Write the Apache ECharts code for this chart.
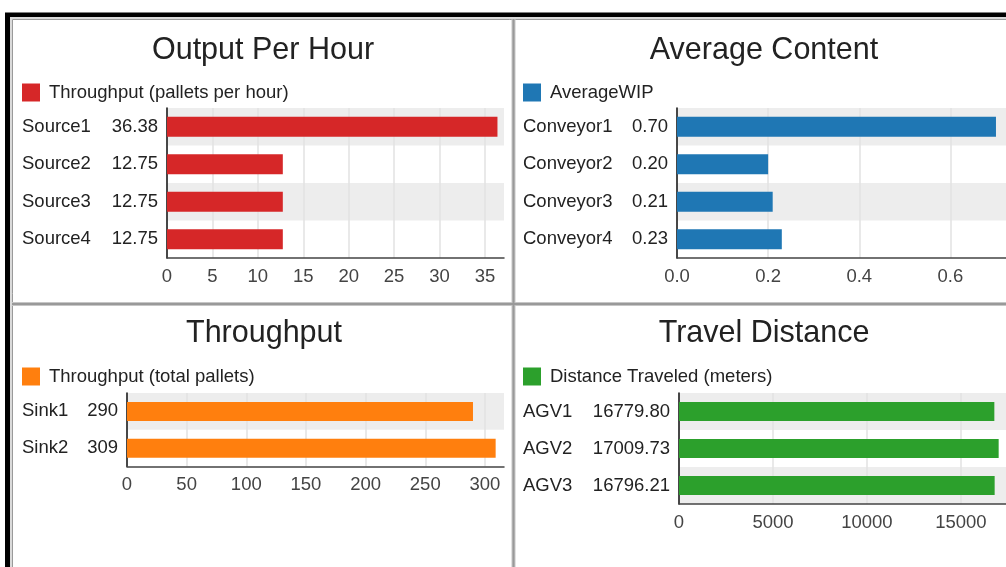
<!DOCTYPE html>
<html>
<head>
<meta charset="utf-8">
<script src="https://cdn.jsdelivr.net/npm/echarts@6/dist/echarts.min.js"></script>
<style>
  html, body { margin: 0; padding: 0; background: #fff; }
  #dash { width: 1006px; height: 567px; }
</style>
</head>
<body>
<div id="dash"></div>
<script>
// Simulation KPIs
const sourceNames = ['Source1', 'Source2', 'Source3', 'Source4'];
const sourceRates = [36.38, 12.75, 12.75, 12.75];

const conveyorNames = ['Conveyor1', 'Conveyor2', 'Conveyor3', 'Conveyor4'];
const conveyorWip = [0.70, 0.20, 0.21, 0.23];

const sinkNames = ['Sink1', 'Sink2'];
const sinkTotals = [290, 309];

const agvNames = ['AGV1', 'AGV2', 'AGV3'];
const agvDistances = [16779.80, 17009.73, 16796.21];

const panelTitles = ['Output Per Hour', 'Average Content', 'Throughput', 'Travel Distance'];
const seriesNames = ['Throughput (pallets per hour)', 'AverageWIP', 'Throughput (total pallets)', 'Distance Traveled (meters)'];

const FONT = '"Liberation Sans", Arial, Helvetica, sans-serif';
const TEXT = '#222';
const FS = 18.5;

// layout + scale settings for each of the four panels
const panels = [
  { names: sourceNames, values: sourceRates, fmt: v => v.toFixed(2), tick: v => String(v),
    interval: 5, max: 37.1, color: '#d62728',
    grid: { left: 167, top: 108, width: 337, height: 150 },
    titleX: 263, titleY: 35, legendX: 22, legendY: 83, nameW: 76, valW: 60, barWidth: 20 },
  { names: conveyorNames, values: conveyorWip, fmt: v => v.toFixed(2), tick: v => v.toFixed(1),
    interval: 0.2, max: 0.722, color: '#1f77b4',
    grid: { left: 677, top: 108, width: 329, height: 150 },
    titleX: 764, titleY: 35, legendX: 523, legendY: 83, nameW: 95, valW: 50, barWidth: 20 },
  { names: sinkNames, values: sinkTotals, fmt: v => String(v), tick: v => String(v),
    interval: 50, max: 316, color: '#ff7f0e',
    grid: { left: 127, top: 393, width: 377, height: 73.5 },
    titleX: 264, titleY: 318, legendX: 22, legendY: 367, nameW: 56, valW: 40, barWidth: 19 },
  { names: agvNames, values: agvDistances, fmt: v => v.toFixed(2), tick: v => String(v),
    interval: 5000, max: 17400, color: '#2ca02c',
    grid: { left: 679, top: 393, width: 327, height: 111 },
    titleX: 764, titleY: 318, legendX: 523, legendY: 367, nameW: 67, valW: 80, barWidth: 19 }
];

const grids = [], xAxes = [], yAxes = [], series = [], legends = [];
const graphics = [
  // outer black frame
  { type: 'rect', shape: { x: 7.5, y: 15, width: 1200, height: 800 },
    style: { fill: 'none', stroke: '#000', lineWidth: 5 }, silent: true },
  { type: 'rect', shape: { x: 11, y: 18, width: 1200, height: 800 },
    style: { fill: 'none', stroke: '#dadada', lineWidth: 2 }, silent: true },
  { type: 'rect', shape: { x: 12.5, y: 19.5, width: 1200, height: 800 },
    style: { fill: 'none', stroke: '#9a9a9a', lineWidth: 1 }, silent: true },
  // panel dividers
  { type: 'line', shape: { x1: 513.5, y1: 19, x2: 513.5, y2: 567 },
    style: { stroke: '#c6c6c6', lineWidth: 4 }, silent: true },
  { type: 'line', shape: { x1: 12, y1: 304, x2: 1006, y2: 304 },
    style: { stroke: '#c6c6c6', lineWidth: 4 }, silent: true },
  { type: 'line', shape: { x1: 513.5, y1: 19, x2: 513.5, y2: 567 },
    style: { stroke: '#999', lineWidth: 2 }, silent: true },
  { type: 'line', shape: { x1: 12, y1: 304, x2: 1006, y2: 304 },
    style: { stroke: '#999', lineWidth: 2 }, silent: true }
];

panels.forEach((p, i) => {
  grids.push(Object.assign({ containLabel: false }, p.grid));

  xAxes.push({
    gridIndex: i, type: 'value', min: 0, max: p.max, interval: p.interval,
    axisLine: { show: true, lineStyle: { color: '#444', width: 1.5 } },
    axisTick: { show: false },
    axisLabel: { color: '#444', fontSize: FS, fontFamily: FONT, margin: 9,
      showMaxLabel: false, formatter: p.tick },
    splitLine: { show: true, showMaxLine: false, lineStyle: { color: '#e2e2e2', width: 1.5 } }
  });

  yAxes.push({
    gridIndex: i, type: 'category', data: p.names, inverse: true,
    axisLine: { show: true, lineStyle: { color: '#111', width: 1.5 } },
    axisTick: { show: false },
    axisLabel: {
      margin: 9, fontSize: FS, fontFamily: FONT, color: TEXT,
      formatter: (name, idx) => '{n|' + name + '}{v|' + p.fmt(p.values[idx]) + '}',
      rich: {
        n: { width: p.nameW, align: 'left', fontSize: FS, fontFamily: FONT, color: TEXT },
        v: { width: p.valW, align: 'right', fontSize: FS, fontFamily: FONT, color: TEXT }
      }
    },
    splitLine: { show: false },
    splitArea: { show: true, areaStyle: { color: ['rgba(0,0,0,0.07)', 'rgba(0,0,0,0)'] } }
  });

  series.push({
    type: 'bar', name: seriesNames[i], xAxisIndex: i, yAxisIndex: i,
    data: p.values, barWidth: p.barWidth,
    itemStyle: { color: p.color },
    emphasis: { disabled: true }
  });

  legends.push({
    data: [seriesNames[i]], left: p.legendX, top: p.legendY,
    icon: 'rect', itemWidth: 18, itemHeight: 18, padding: 0,
    selectedMode: false,
    textStyle: { fontSize: FS, fontFamily: FONT, color: TEXT, padding: [0, 0, 0, 4] }
  });

  graphics.push({
    type: 'text', x: p.titleX, y: p.titleY, silent: true,
    style: { text: panelTitles[i], fontSize: 30.5, fontFamily: FONT, fill: TEXT,
      align: 'center', verticalAlign: 'top' }
  });
});

const chart = echarts.init(document.getElementById('dash'), null, { renderer: 'canvas' });
chart.setOption({
  animation: false,
  backgroundColor: '#fff',
  grid: grids,
  xAxis: xAxes,
  yAxis: yAxes,
  legend: legends,
  series: series,
  graphic: graphics
});
</script>
</body>
</html>
